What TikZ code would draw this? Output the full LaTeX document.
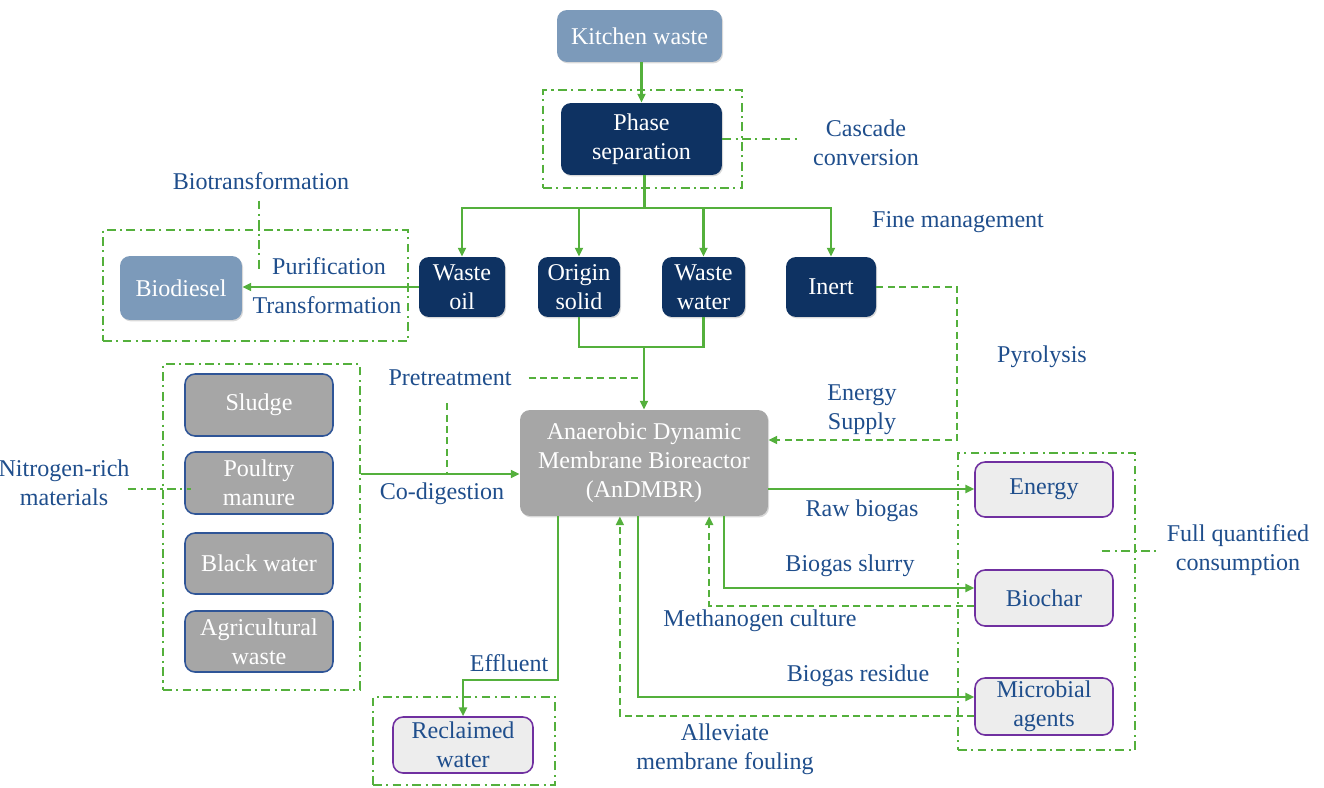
\documentclass[tikz,border=0pt]{standalone}
\usepackage{fontspec}
\setmainfont{Liberation Serif}
\usetikzlibrary{fit,calc,shadows,arrows.meta}
\definecolor{gr}{RGB}{84,176,60}
\definecolor{lblue}{RGB}{31,78,140}
\definecolor{navy}{RGB}{14,50,98}
\definecolor{steel}{RGB}{124,154,186}
\definecolor{boxgray}{RGB}{166,166,166}
\definecolor{gborder}{RGB}{47,85,151}
\definecolor{lightfill}{RGB}{237,237,237}
\definecolor{purp}{RGB}{112,48,160}
\begin{document}
\begin{tikzpicture}[x=0.02cm,y=-0.02cm,
 font=\fontsize{13.7}{16.5}\selectfont,
 boxbase/.style={rounded corners=0.2cm, inner sep=0pt, align=center},
 shad/.style={drop shadow={shadow xshift=0.6pt,shadow yshift=-0.8pt,opacity=0.3}},
 lightbox/.style={boxbase,shad,fill=steel,text=white},
 navybox/.style={boxbase,shad,fill=navy,text=white,minimum height=1.2cm},
 graybox/.style={boxbase,fill=boxgray,draw=gborder,line width=0.9pt,text=white,minimum width=2.96cm},
 reactor/.style={boxbase,shad,fill=boxgray,text=white},
 outbox/.style={boxbase,fill=lightfill,draw=purp,line width=0.9pt,text=lblue},
 groupbox/.style={draw=gr,line width=1.1pt,dash pattern=on 5pt off 2.5pt on 1.2pt off 2.5pt,inner sep=0pt},
 lbl/.style={text=lblue,align=center,inner sep=1pt},
 conn/.style={draw=gr,line width=1.2pt},
 flow/.style={conn,-{Triangle[length=5pt,width=4.5pt]}},
 dflow/.style={flow,dash pattern=on 4pt off 2.5pt},
 dline/.style={conn,dash pattern=on 4pt off 2.5pt},
 dd/.style={conn,dash pattern=on 5pt off 2.5pt on 1.2pt off 2.5pt},
]
\useasboundingbox (0,0) rectangle (1324,787);

% group boxes
\node[groupbox, fit={(543,90)(742,188)}] (g1) {};
\node[groupbox, fit={(103,230)(408,341)}] (g2) {};
\node[groupbox, fit={(163,364)(360,690)}] (g3) {};
\node[groupbox, fit={(958,453)(1135,750)}] (g4) {};
\node[groupbox, fit={(373,697)(555,785)}] (g5) {};

% boxes
\node[lightbox, minimum width=3.3cm, minimum height=1.04cm] (kw) at (639.5,36) {Kitchen waste};
\node[navybox, minimum width=3.22cm, minimum height=1.44cm] (ps) at (641.5,139) {Phase\\separation};
\node[navybox, minimum width=1.72cm] (wo) at (462,287) {Waste\\oil};
\node[navybox, minimum width=1.64cm] (os) at (579,287) {Origin\\solid};
\node[navybox, minimum width=1.66cm] (ww) at (703.5,287) {Waste\\water};
\node[navybox, minimum width=1.8cm] (in) at (831,287) {Inert};
\node[lightbox, minimum width=2.44cm, minimum height=1.28cm] (bd) at (181,288) {Biodiesel};
\node[graybox, minimum height=1.24cm] (sl) at (259,405) {Sludge};
\node[graybox, minimum height=1.24cm] (pm) at (259,483) {Poultry\\manure};
\node[graybox, minimum height=1.22cm] (bw) at (259,563.5) {Black water};
\node[graybox, minimum height=1.22cm] (aw) at (259,641.5) {Agricultural\\waste};
\node[reactor, minimum width=4.96cm, minimum height=2.12cm] (an) at (644,463) {Anaerobic Dynamic\\Membrane Bioreactor\\(AnDMBR)};
\node[outbox, minimum width=2.76cm, minimum height=1.1cm] (en) at (1044,489.5) {Energy};
\node[outbox, minimum width=2.76cm, minimum height=1.12cm] (bc) at (1044,598) {Biochar};
\node[outbox, minimum width=2.76cm, minimum height=1.14cm] (ma) at (1044,706.5) {Microbial\\agents};
\node[outbox, minimum width=2.8cm, minimum height=1.12cm] (rw) at (463,745) {Reclaimed\\water};

% labels
\node[lbl] (lcc) at (866,143) {Cascade\\conversion};
\node[lbl] (lbt) at (261,181) {Biotransformation};
\node[lbl] (lpu) at (329,266) {Purification};
\node[lbl] (ltr) at (327,305) {Transformation};
\node[lbl] (lfm) at (958,222) {Fine management};
\node[lbl] (lpy) at (1042,357) {Pyrolysis};
\node[lbl] (lpt) at (450,378) {Pretreatment};
\node[lbl] (les) at (862,410) {Energy\\Supply};
\node[lbl] (lnr) at (64,483) {Nitrogen-rich\\materials};
\node[lbl] (lco) at (442,494) {Co-digestion};
\node[lbl] (lrb) at (862,511) {Raw biogas};
\node[lbl] (lfq) at (1238,550) {Full quantified\\consumption};
\node[lbl] (lbs) at (850,566) {Biogas slurry};
\node[lbl] (lmc) at (760,621) {Methanogen culture};
\node[lbl] (lef) at (509,663) {Effluent};
\node[lbl] (lbr) at (858,676) {Biogas residue};
\node[lbl] (lal) at (725,749) {Alleviate\\membrane fouling};

% connectors
\draw[flow] (kw.south -| ps.north) -- (ps.north);
\coordinate (br) at ($(ps.south)+(3,33)$);
\draw[conn] (ps.south -| br) -- (br);
\draw[flow] (br) -| (wo);
\draw[flow] (br) -| (os);
\draw[flow] (br) -| (ww);
\draw[flow] (br) -| (in);
\draw[flow] (wo.west) -- (wo.west -| bd.east);

\path (os.south) ++(0,30) coordinate (mgl);
\draw[conn] (os.south) -- (mgl) -| (ww.south);
\coordinate (mg) at (an.north |- mgl);
\draw[flow] (mg) -- (an.north);
\draw[dline] ($(lpt.east)+(15,0)$) -- (lpt.east -| mg);

\coordinate (cd) at ($(g3.east)+(0,-53)$);
\draw[flow] (cd) -- (cd -| an.west);
\coordinate (pv) at ($(lpt.south)+(-3,15)$);
\draw[dline] (pv) -- (pv |- cd);

\draw[dflow] (in.east) -- ++(81,0) |- ($(an.east)+(0,-23)$);

\coordinate (rb) at ($(an.east)+(0,26)$);
\draw[flow] (rb) -- (rb -| en.west);

\coordinate (s1) at ($(an.south west)!0.82!(an.south east)$);
\coordinate (s2) at ($(an.south west)!0.762!(an.south east)$);
\coordinate (s3) at ($(an.south west)!0.476!(an.south east)$);
\coordinate (s4) at ($(an.south west)!0.403!(an.south east)$);
\coordinate (s5) at ($(an.south west)!0.153!(an.south east)$);
\draw[flow] (s1) |- ($(bc.west)+(0,-10)$);
\draw[dflow] ($(bc.west)+(0,8)$) -| (s2);
\draw[flow] (s3) |- ($(ma.west)+(0,-9.5)$);
\draw[dflow] ($(ma.west)+(0,9.5)$) -| (s4);
\draw[flow] (s5) -- ++(0,164) -| (rw.north);

% dash-dot annotation lines
\draw[dd] (ps.east) -- ($(ps.east)+(78,0)$);
\draw[dd] ($(lbt.south)+(-2,9)$) -- ++(0,71);
\draw[dd] ($(lnr.east)+(-4,6)$) -- ($(pm.west)+(7,6)$);
\draw[dd] ($(lfq.west)+(-63,1)$) -- ($(lfq.west)+(-4,1)$);
\end{tikzpicture}
\end{document}
